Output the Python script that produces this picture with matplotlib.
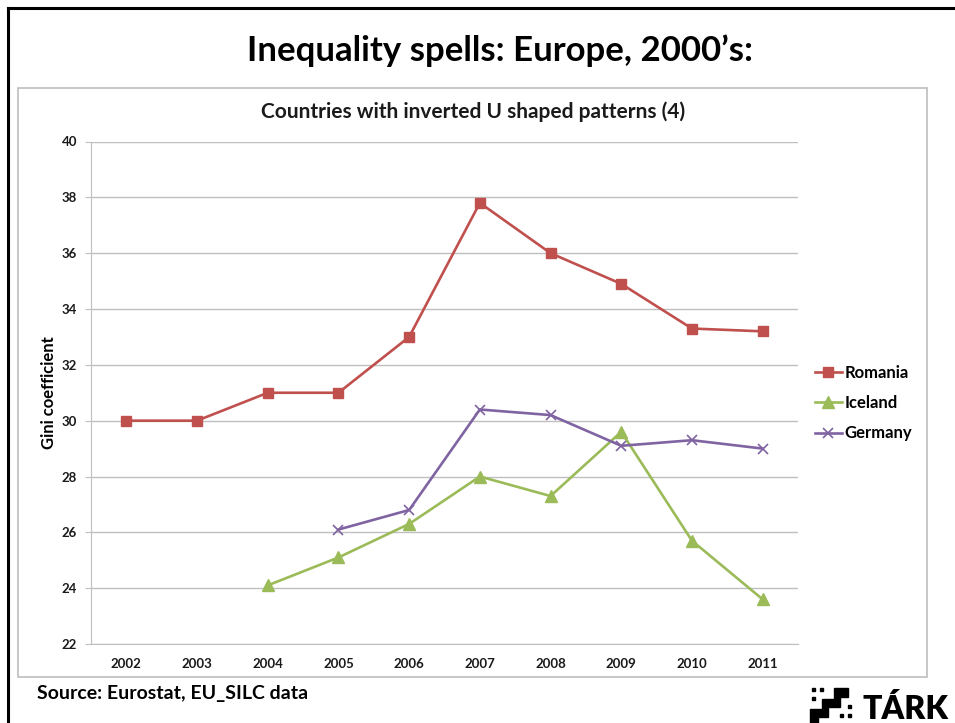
import matplotlib
matplotlib.use("Agg")
import matplotlib.pyplot as plt
from matplotlib.patches import Rectangle, Polygon
from matplotlib.lines import Line2D

plt.rcParams['font.family'] = ['Lato', 'DejaVu Sans']

# data
years = ['2002', '2003', '2004', '2005', '2006', '2007', '2008', '2009', '2010', '2011']
romania = [30.0, 30.0, 31.0, 31.0, 33.0, 37.8, 36.0, 34.9, 33.3, 33.2]
iceland = [None, None, 24.1, 25.1, 26.3, 28.0, 27.3, 29.6, 25.7, 23.6]
germany = [None, None, None, 26.1, 26.8, 30.4, 30.2, 29.1, 29.3, 29.0]
yticks = [22, 24, 26, 28, 30, 32, 34, 36, 38, 40]

W, H = 955, 723


def px(x, y):
    return (x / W, 1 - y / H)


fig = plt.figure(figsize=(W / 100, H / 100), dpi=100)

# slide frame
fig.add_artist(Line2D([8 / W, 8 / W], [0, 1 - 8 / H], color='black', lw=2.2,
                      transform=fig.transFigure))
fig.add_artist(Line2D([8 / W, 1], [1 - 8 / H, 1 - 8 / H], color='black', lw=2.2,
                      transform=fig.transFigure))

# chart box
fig.add_artist(Rectangle(px(18, 677), (927 - 18) / W, (677 - 88) / H, fill=False,
                         edgecolor='#BDBDBD', lw=1.2, transform=fig.transFigure))

fig.text(500 / W, 1 - 51 / H, 'Inequality spells: Europe, 2000\u2019s:', ha='center',
         va='center', fontsize=25, fontweight='bold')
fig.text(473 / W, 1 - 112 / H, 'Countries with inverted U shaped patterns (4)',
         ha='center', va='center', fontsize=15, fontweight='bold', color='#1a1a1a')
fig.text(37 / W, 1 - 694 / H, 'Source: Eurostat, EU_SILC data', ha='left',
         va='center', fontsize=14, fontweight='bold')

ax = fig.add_axes([91 / W, 1 - 644 / H, (798 - 91) / W, (644 - 141.5) / H])

x = list(range(len(years)))
ax.plot(x, romania, color='#C0504D', lw=1.9, marker='s', ms=7, label='Romania')
ax.plot(x, iceland, color='#9BBB59', lw=1.9, marker='^', ms=8, label='Iceland')
ax.plot(x, germany, color='#8064A2', lw=1.9, marker='x', ms=7, mew=1.2,
        label='Germany')

ax.set_xlim(-0.5, len(years) - 0.5)
ax.set_ylim(22, 40)
ax.set_yticks(yticks)
ax.set_xticks(x)
ax.set_xticklabels(years)
ax.grid(axis='y', color='#BFBFBF', lw=1)
ax.set_axisbelow(True)
for s in ['top', 'right']:
    ax.spines[s].set_visible(False)
ax.spines['left'].set_color('#BFBFBF')
ax.spines['bottom'].set_color('#BFBFBF')
ax.tick_params(axis='y', length=4, color='#BFBFBF', labelsize=9.5, pad=6)
ax.tick_params(axis='x', length=0, labelsize=9.5, pad=10)
for lab in ax.get_xticklabels() + ax.get_yticklabels():
    lab.set_fontweight('bold')
    lab.set_color('#1a1a1a')
ax.set_ylabel('Gini coefficient', fontsize=12, fontweight='bold', labelpad=3)

fig.legend(loc='upper left', bbox_to_anchor=(800 / W, 1 - 350 / H), frameon=False,
           prop={'size': 12, 'weight': 'bold'}, handlelength=1.6, handletextpad=0.15,
           labelspacing=0.85)

# logo in the corner
fig.text(862 / W, 1 - 719 / H, 'T\u00c1RK', ha='left', va='baseline', fontsize=23,
         fontweight='heavy')
steps = [(810, 723), (810, 709), (822, 709), (822, 699), (834, 699), (834, 688),
         (848, 688), (848, 697), (840, 697), (840, 707), (828, 707), (828, 717),
         (818, 717), (818, 723)]
fig.add_artist(Polygon([px(a, b) for a, b in steps], closed=True, color='black',
                       transform=fig.transFigure))
for a, b in [(812, 688), (820, 688), (812, 697), (848, 705), (840, 714), (848, 714)]:
    fig.add_artist(Rectangle(px(a, b + 3), 3 / W, 3 / H, color='black',
                             transform=fig.transFigure))

fig.savefig('out.png', dpi=100)
